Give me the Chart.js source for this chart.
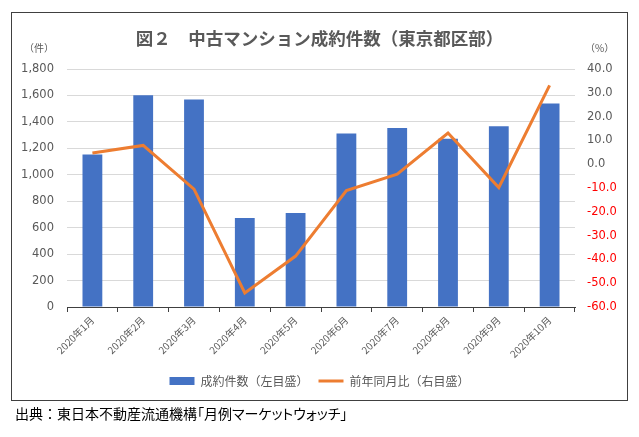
<!DOCTYPE html>
<html>
<head>
<meta charset="utf-8">
<script src="https://cdn.jsdelivr.net/npm/chart.js@4.4.1/dist/chart.umd.min.js"></script>
<style>
  html, body { margin: 0; padding: 0; background: #fff; }
  #wrap { position: relative; width: 639px; height: 437px; overflow: hidden; }
  #frame { position: absolute; left: 11px; top: 12px; width: 617px; height: 389px; box-sizing: border-box; border: 1px solid #404040; }
  canvas { position: absolute; left: 0; top: 0; }
  .unit { position: absolute; top: 40px; font: 10px "Noto Sans CJK JP", sans-serif; color: #595959; }
  #src { position: absolute; left: 15px; top: 403px; font: 14px "Noto Sans CJK JP", sans-serif; color: #000; white-space: nowrap; }
  #src span { font-feature-settings: "palt"; }
</style>
</head>
<body>
<div id="wrap">
  <div id="frame"></div>
  <canvas id="grafico" width="639" height="437"></canvas>
  <span class="unit" style="left:24px">（件）</span>
  <span class="unit" style="left:585px">（%）</span>
  <div id="src">出典：東日本不動産流通機構<span>「月例マーケットウォッチ」</span></div>
</div>
<script>
const meses = ['2020年1月', '2020年2月', '2020年3月', '2020年4月', '2020年5月', '2020年6月', '2020年7月', '2020年8月', '2020年9月', '2020年10月'];
const seiyaku = [1153, 1602, 1569, 674, 710, 1313, 1354, 1273, 1367, 1539];
const zennenHi = [4.7, 7.9, -10.5, -54.1, -38.6, -11.1, -4.2, 13.1, -9.8, 33.1];

const ctx = document.getElementById('grafico');

const grafico = new Chart(ctx, {
  type: 'bar',
  data: {
    labels: meses,
    datasets: [{
      type: 'bar',
      label: '成約件数（左目盛）',
      data: seiyaku,
      backgroundColor: '#4472C4',
      borderWidth: 0,
      barPercentage: 0.39,
      categoryPercentage: 1,
      yAxisID: 'y',
      order: 2,
      pointStyle: 'rect'
    }, {
      type: 'line',
      label: '前年同月比（右目盛）',
      data: zennenHi,
      borderColor: '#ED7D31',
      backgroundColor: '#ED7D31',
      borderWidth: 3,
      pointRadius: 0,
      tension: 0,
      yAxisID: 'y1',
      order: 1,
      pointStyle: 'line'
    }]
  },
  options: {
    responsive: false,
    animation: false,
    layout: { padding: { top: 12, left: 11, right: 11, bottom: 40 } },
    plugins: {
      title: {
        display: true,
        text: '図２　中古マンション成約件数（東京都区部）',
        color: '#595959',
        font: { family: '"Noto Sans CJK JP", sans-serif', size: 17.5, weight: 'bold' },
        padding: { top: 16, bottom: 20 }
      },
      legend: {
        position: 'bottom',
        labels: {
          usePointStyle: true,
          pointStyleWidth: 25,
          boxHeight: 8,
          padding: 10,
          color: '#595959',
          font: { family: '"Noto Sans CJK JP", sans-serif', size: 12 },
          sort: (a, b) => a.datasetIndex - b.datasetIndex
        }
      },
      tooltip: { enabled: false }
    },
    scales: {
      x: {
        grid: { drawOnChartArea: false, drawTicks: true, tickLength: 5, color: '#404040' },
        border: { color: '#404040' },
        ticks: {
          autoSkip: false,
          minRotation: 45,
          maxRotation: 45,
          padding: 2,
          color: '#595959',
          font: { family: '"Noto Sans CJK JP", sans-serif', size: 10 }
        },
        afterFit: (scale) => { scale.height = 58; }
      },
      y: {
        position: 'left',
        min: 0,
        max: 1800,
        grid: { color: '#d9d9d9', drawTicks: false },
        border: { display: false },
        ticks: {
          stepSize: 200,
          padding: 13,
          color: '#595959',
          font: { family: '"DejaVu Sans", sans-serif', size: 11.5 },
          callback: (v) => v.toLocaleString('en-US')
        },
        afterFit: (scale) => { scale.width = 56; }
      },
      y1: {
        position: 'right',
        min: -60,
        max: 40,
        grid: { drawOnChartArea: false, drawTicks: false },
        border: { display: false },
        ticks: {
          stepSize: 10,
          padding: 12,
          color: (c) => c.tick.value < 0 ? '#FF0000' : '#595959',
          font: { family: '"DejaVu Sans", sans-serif', size: 11.5 },
          callback: (v) => v.toFixed(1)
        },
        afterFit: (scale) => { scale.width = 53; }
      }
    }
  }
});
</script>
</body>
</html>
